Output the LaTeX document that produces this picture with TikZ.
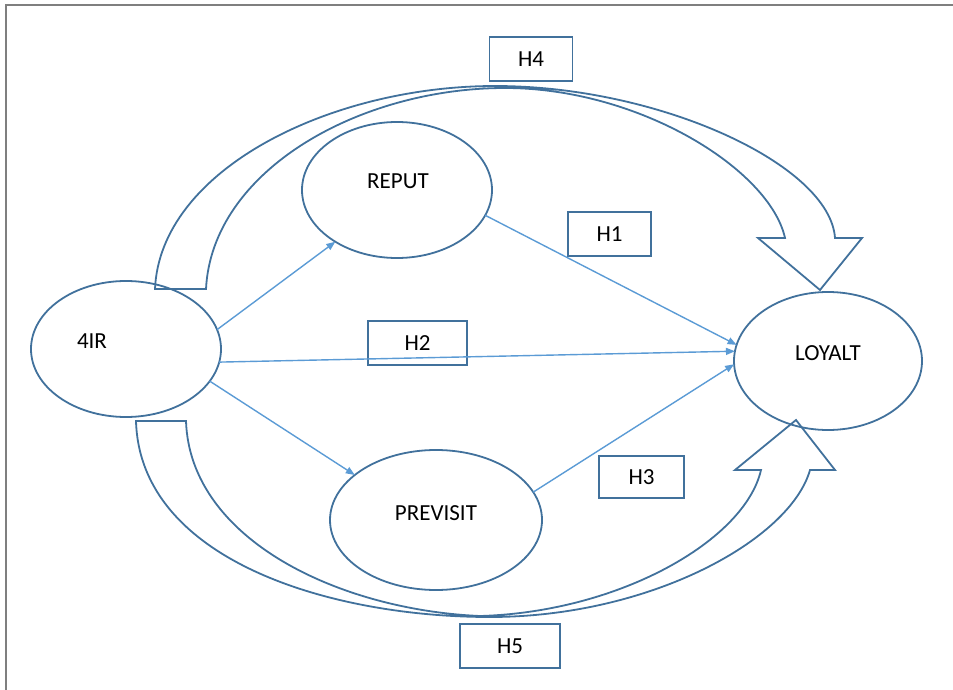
\documentclass[tikz,border=0pt]{standalone}
\usepackage{fontspec}
\setmainfont{Carlito}
\usetikzlibrary{shapes.geometric,arrows.meta}
\definecolor{dblue}{HTML}{41719C}
\definecolor{lblue}{HTML}{5B9BD5}
\definecolor{frame}{HTML}{7F7F7F}
\tikzset{
  var/.style={ellipse, draw=dblue, line width=1.8pt, inner sep=0pt, outer sep=0pt},
  lab/.style={inner sep=0pt, font=\fontsize{23}{27}\selectfont, text=black},
  hbox/.style={rectangle, draw=dblue, line width=1.8pt, inner sep=0pt, minimum height=44pt, font=\fontsize{23}{27}\selectfont, text=black},
  path/.style={draw=lblue, line width=1.4pt, -{Triangle[length=9pt,width=7pt]}},
  barrow/.style={draw=dblue, line width=1.8pt, line join=miter}
}
\begin{document}
\begin{tikzpicture}[x=1pt,y=-1pt]
\useasboundingbox (0,0) rectangle (953,690);
\begin{scope}
\clip (0,0) rectangle (953,690);
\draw[frame, line width=1.6pt] (6,5) rectangle (990,720);
\end{scope}

% variables
\node[var, minimum width=190pt, minimum height=136pt] (ir) at (126,349) {};
\node[var, minimum width=190pt, minimum height=136pt] (rep) at (397,190) {};
\node[var, minimum width=212pt, minimum height=140pt] (pre) at (436,520) {};
\node[var, minimum width=188pt, minimum height=138pt] (loy) at (828,361) {};
\node[lab] (tir) at (92,341) {4IR};
\node[lab] (trep) at (398,181) {REPUT};
\node[lab] (tpre) at (436,513) {PREVISIT};
\node[lab] (tloy) at (828,353) {LOYALT};

% hypothesis boxes
\node[hbox, minimum width=83pt] (h4) at (531,59) {H4};
\node[hbox, minimum width=83pt] (h1) at (609.5,234) {H1};
\node[hbox, minimum width=99pt] (h2) at (417.5,343) {H2};
\node[hbox, minimum width=85pt, minimum height=42pt] (h3) at (641.5,477) {H3};
\node[hbox, minimum width=100pt] (h5) at (510,646) {H5};

% straight paths
\draw[path] (ir.12.7) -- (rep.-140.6);
\draw[path] (ir.-8) -- (loy.174.5);
\draw[path] (ir.-21) -- (pre.151);
\draw[path] (rep.-16) -- (loy.170);
\draw[path] (pre.16) -- (loy.-178);

% curved block arrow H4 (top)
\draw[barrow] (155,289) .. controls (160,170) and (330,86) .. (495,86)
  .. controls (660,86) and (830,165) .. (835,238)
  -- (862,238) -- (820,290) -- (758,238) -- (785,238)
  .. controls (770,170) and (640,88) .. (505,88)
  .. controls (360,88) and (212,170) .. (206,289) -- cycle;

% curved block arrow H5 (bottom)
\draw[barrow] (136,421) .. controls (140,560) and (330,617) .. (490,617)
  .. controls (650,617) and (790,540) .. (810,470)
  -- (835,470) -- (796,420) -- (735,470) -- (761,470)
  .. controls (745,540) and (620,612) .. (480,616)
  .. controls (340,610) and (190,540) .. (186,421) -- cycle;
\end{tikzpicture}
\end{document}
